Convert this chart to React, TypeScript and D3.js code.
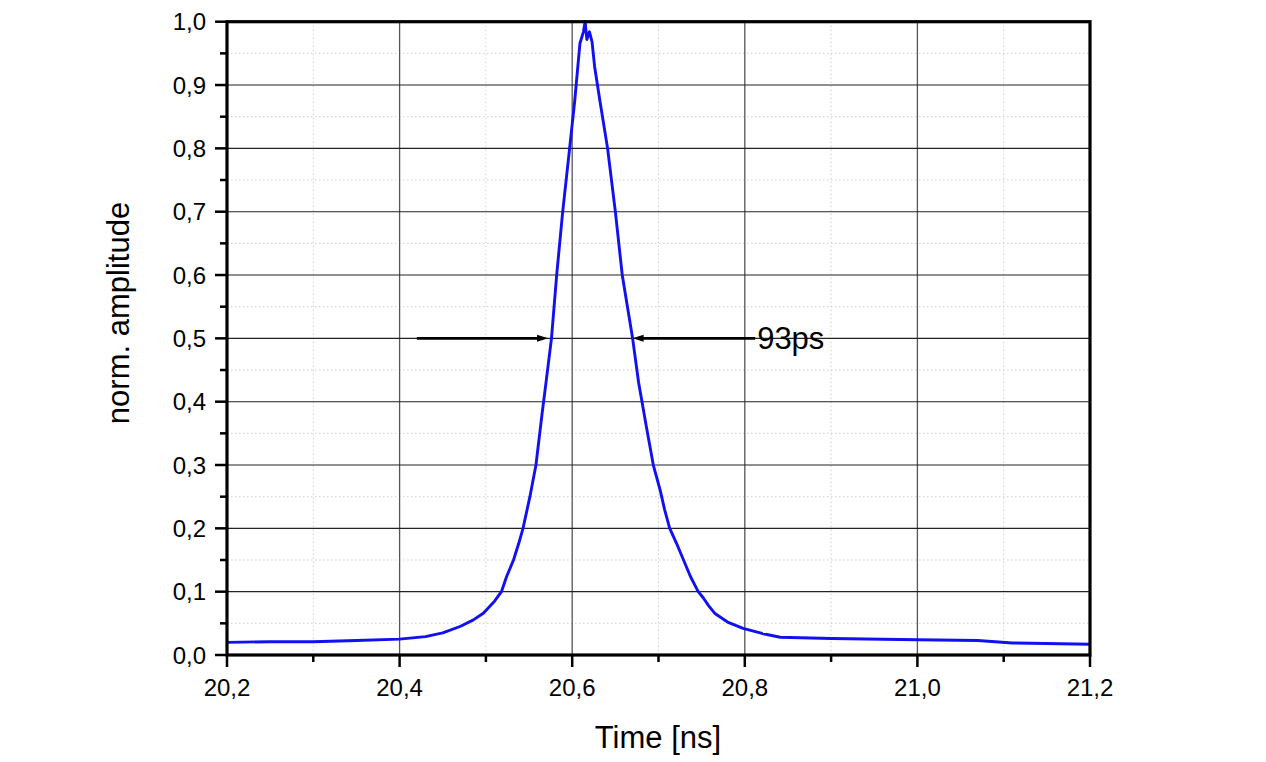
import { useRef, useEffect } from 'react';
import * as d3 from 'd3';

// pulse trace
const timeNs = [
    20.200, 20.250, 20.300, 20.350, 20.400, 20.430, 20.450, 20.470, 20.485, 20.497,
    20.510, 20.518, 20.524, 20.532, 20.538, 20.543, 20.551, 20.558, 20.565, 20.570,
    20.576, 20.582, 20.589, 20.597, 20.603, 20.609, 20.613, 20.615, 20.617, 20.620,
    20.623, 20.626, 20.632, 20.641, 20.650, 20.658, 20.664, 20.670, 20.677, 20.686,
    20.694, 20.702, 20.707, 20.713, 20.721, 20.729, 20.737, 20.746, 20.752, 20.758,
    20.765, 20.780, 20.798, 20.820, 20.841, 20.900, 21.000, 21.070, 21.110, 21.200,
];
const amplitude = [
    0.020, 0.021, 0.021, 0.023, 0.025, 0.029, 0.035, 0.045, 0.055, 0.066,
    0.085, 0.100, 0.124, 0.150, 0.176, 0.200, 0.250, 0.300, 0.380, 0.434,
    0.500, 0.600, 0.700, 0.800, 0.876, 0.966, 0.984, 1.000, 0.972, 0.984,
    0.968, 0.929, 0.876, 0.800, 0.700, 0.600, 0.550, 0.500, 0.430, 0.360,
    0.300, 0.260, 0.230, 0.200, 0.176, 0.150, 0.124, 0.100, 0.090, 0.078,
    0.066, 0.052, 0.042, 0.034, 0.028, 0.026, 0.024, 0.023, 0.019, 0.017,
];

const xTicks = [20.2, 20.4, 20.6, 20.8, 21.0, 21.2];
const xMinor = [20.3, 20.5, 20.7, 20.9, 21.1];
const yTicks = [0, 0.1, 0.2, 0.3, 0.4, 0.5, 0.6, 0.7, 0.8, 0.9, 1.0];
const yMinor = [0.05, 0.15, 0.25, 0.35, 0.45, 0.55, 0.65, 0.75, 0.85, 0.95];

// FWHM markers: [from, to] in ns at half height
const fwhmLevel = 0.5;
const leftArrow = [20.42, 20.572];
const rightArrow = [20.812, 20.670];
const fwhmLabel = "93ps";

export default function App() {
    const ref = useRef(null);

    useEffect(() => {
        const svg_width = 1266;
        const svg_height = 762;
        const left = 227, right = 1090, top = 21.7, bottom = 655;
        const font = "'Liberation Sans', Arial, sans-serif";
        const fmt = (v: number) => v.toFixed(1).replace(".", ",");

        const svg = d3.select(ref.current)
            .append("svg")
                .attr("width", svg_width)
                .attr("height", svg_height)
                .style("position", "absolute")
                .style("left", "0px")
                .style("top", "0px")
                .style("background", "white");

        const x = d3.scaleLinear().domain([20.2, 21.2]).range([left, right]);
        const y = d3.scaleLinear().domain([0, 1]).range([bottom, top]);

        // minor grid (dotted)
        const grid = svg.append("g");
        grid.selectAll("line.xm").data(xMinor).enter().append("line")
            .attr("x1", (d) => x(d)).attr("x2", (d) => x(d))
            .attr("y1", top).attr("y2", bottom)
            .attr("stroke", "#cfcfcf").attr("stroke-width", 1)
            .attr("stroke-dasharray", "1.5,2.5");
        grid.selectAll("line.ym").data(yMinor).enter().append("line")
            .attr("x1", left).attr("x2", right)
            .attr("y1", (d) => y(d)).attr("y2", (d) => y(d))
            .attr("stroke", "#cfcfcf").attr("stroke-width", 1)
            .attr("stroke-dasharray", "1.5,2.5");

        // major grid
        grid.selectAll("line.xg").data(xTicks.slice(1, -1)).enter().append("line")
            .attr("x1", (d) => x(d)).attr("x2", (d) => x(d))
            .attr("y1", top).attr("y2", bottom)
            .attr("stroke", "#555").attr("stroke-width", 1.3);
        grid.selectAll("line.yg").data(yTicks.slice(1, -1)).enter().append("line")
            .attr("x1", left).attr("x2", right)
            .attr("y1", (d) => y(d)).attr("y2", (d) => y(d))
            .attr("stroke", "#222").attr("stroke-width", 1.1);

        // trace
        const line = d3.line<number>()
            .x((d, i) => x(timeNs[i]))
            .y((d) => y(d));
        svg.append("path")
            .datum(amplitude)
            .attr("d", line)
            .attr("fill", "none")
            .attr("stroke", "#1010f0")
            .attr("stroke-width", 2.9)
            .attr("stroke-linejoin", "round");

        // FWHM arrows
        const arrows = svg.append("g");
        [leftArrow, rightArrow].forEach(([from, to]) => {
            const x0 = x(from), x1 = x(to), yy = y(fwhmLevel);
            const dir = Math.sign(x1 - x0);
            arrows.append("line")
                .attr("x1", x0).attr("x2", x1 - dir * 8)
                .attr("y1", yy).attr("y2", yy)
                .attr("stroke", "black").attr("stroke-width", 2.6);
            arrows.append("path")
                .attr("d", `M${x1},${yy} L${x1 - dir * 11},${yy - 3.5} L${x1 - dir * 11},${yy + 3.5} Z`)
                .attr("fill", "black");
        });
        arrows.append("text")
            .attr("x", x(rightArrow[0]) + 2)
            .attr("y", y(fwhmLevel) + 11)
            .style("font-family", font)
            .style("font-size", "31px")
            .attr("fill", "black")
            .text(fwhmLabel);

        // frame
        svg.append("rect")
            .attr("x", left).attr("y", top)
            .attr("width", right - left).attr("height", bottom - top)
            .attr("fill", "none").attr("stroke", "black").attr("stroke-width", 3.2);

        // ticks
        const ticks = svg.append("g").attr("stroke", "black").attr("stroke-width", 2.5);
        ticks.selectAll("line.xt").data(xTicks).enter().append("line")
            .attr("x1", (d) => x(d)).attr("x2", (d) => x(d))
            .attr("y1", bottom).attr("y2", bottom + 12);
        ticks.selectAll("line.xmt").data(xMinor).enter().append("line")
            .attr("x1", (d) => x(d)).attr("x2", (d) => x(d))
            .attr("y1", bottom).attr("y2", bottom + 7);
        ticks.selectAll("line.yt").data(yTicks).enter().append("line")
            .attr("x1", left - 12).attr("x2", left)
            .attr("y1", (d) => y(d)).attr("y2", (d) => y(d));
        ticks.selectAll("line.ymt").data(yMinor).enter().append("line")
            .attr("x1", left - 7).attr("x2", left)
            .attr("y1", (d) => y(d)).attr("y2", (d) => y(d));

        // tick labels
        const labels = svg.append("g")
            .style("font-family", font)
            .style("font-size", "24px")
            .attr("fill", "black");
        labels.selectAll("text.x").data(xTicks).enter().append("text")
            .attr("x", (d) => x(d))
            .attr("y", bottom + 41)
            .attr("text-anchor", "middle")
            .text((d) => fmt(d));
        labels.selectAll("text.y").data(yTicks).enter().append("text")
            .attr("x", left - 21)
            .attr("y", (d) => y(d) + 8.5)
            .attr("text-anchor", "end")
            .text((d) => fmt(d));

        // axis titles
        svg.append("text")
            .attr("x", 658)
            .attr("y", 748)
            .attr("text-anchor", "middle")
            .style("font-family", font)
            .style("font-size", "31px")
            .text("Time [ns]");
        svg.append("text")
            .attr("transform", `translate(129, 313) rotate(-90)`)
            .attr("text-anchor", "middle")
            .style("font-family", font)
            .style("font-size", "31px")
            .text("norm. amplitude");

        return () => {
            d3.select(ref.current).selectAll("*").remove();
        };
    }, [ref]);

    return (
        <div ref={ref} />
    );
}
